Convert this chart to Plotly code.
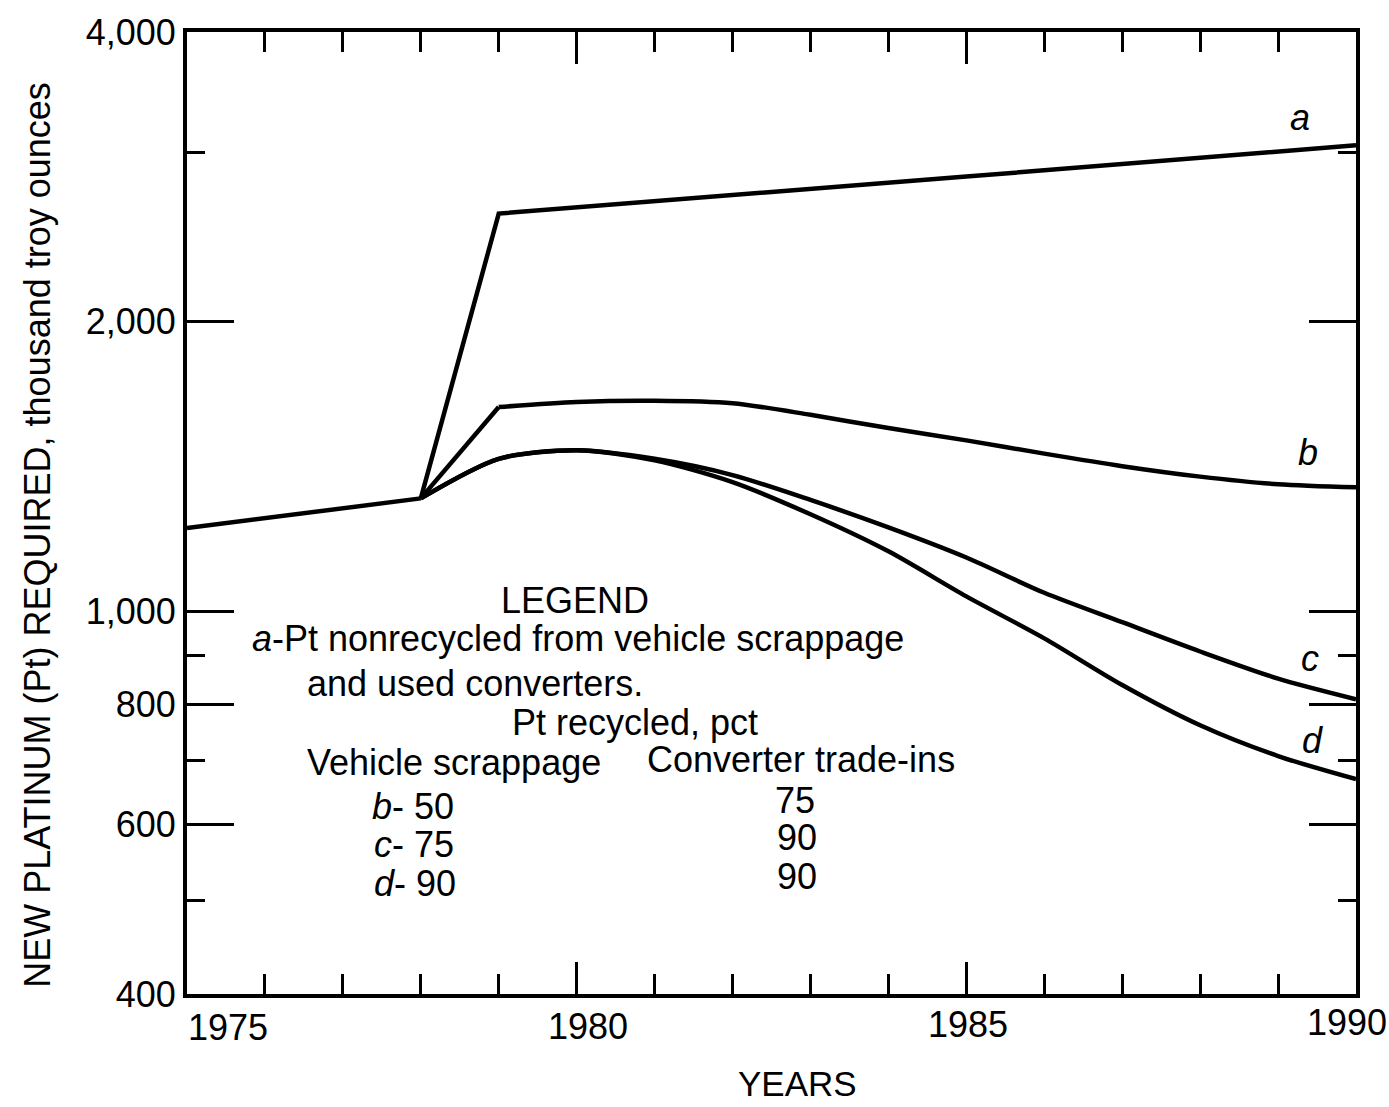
import plotly.graph_objects as go

# ---------------- data ----------------
common_years = [1975, 1978]
common_vals = [1220, 1310]

a_years = [1978, 1979, 1985, 1990]
a_vals = [1310, 2590, 2830, 3050]

years = [1978, 1979, 1980, 1981, 1982, 1983, 1984, 1985, 1986, 1987, 1988, 1989, 1990]
b_vals = [1310, 1630, 1650, 1655, 1645, 1600, 1550, 1505, 1458, 1415, 1380, 1355, 1345]
c_vals = [1310, 1440, 1470, 1440, 1385, 1305, 1222, 1137, 1045, 974, 908, 851, 810]
d_vals = [1310, 1440, 1470, 1435, 1362, 1261, 1154, 1036, 937, 838, 761, 707, 669]

y_major = [400, 600, 800, 1000, 2000, 4000]
y_major_text = ["400", "600", "800", "1,000", "2,000", "4,000"]
y_minor = [500, 700, 900, 3000]
x_major = [1975, 1980, 1985, 1990]
x_major_text = ["1975", "1980", "1985", "1990"]
x_minor = [1976, 1977, 1978, 1979, 1981, 1982, 1983, 1984, 1986, 1987, 1988, 1989]

# ---------------- layout geometry ----------------
FIG_W, FIG_H = 1389, 1107
L, R, T, B = 187, 1356, 22, 994
W, H = R - L, B - T

def P(x, y):
    return (x - L) / W, 1 - (y - T) / H

FONT = "Liberation Sans, Arial, sans-serif"
LINE = dict(color="black", width=4.5)
SPL = dict(color="black", width=4.5, shape="spline", smoothing=0.8)

fig = go.Figure()

fig.add_trace(go.Scatter(x=common_years, y=common_vals, mode="lines", line=LINE, showlegend=False))
fig.add_trace(go.Scatter(x=a_years, y=a_vals, mode="lines", line=LINE, showlegend=False))
# b: straight rise then smooth curve
fig.add_trace(go.Scatter(x=years[:2], y=b_vals[:2], mode="lines", line=LINE, showlegend=False))
fig.add_trace(go.Scatter(x=years[1:], y=b_vals[1:], mode="lines", line=SPL, showlegend=False))
for vals in (c_vals, d_vals):
    fig.add_trace(go.Scatter(x=years, y=vals, mode="lines", line=SPL, showlegend=False))

annotations = []

def txt(text, x, y, xanchor="center", size=36):
    px_, py_ = P(x, y)
    annotations.append(dict(text=text, x=px_, y=py_, xref="paper", yref="paper",
                            xanchor=xanchor, yanchor="middle", showarrow=False,
                            font=dict(family=FONT, size=size, color="black")))

# curve labels
txt("<i>a</i>", 1300, 108)
txt("<i>b</i>", 1308, 447)
txt("<i>c</i>", 1310, 655)
txt("<i>d</i>", 1312, 738)

# legend block
txt("LEGEND", 575, 596)
txt("<i>a</i>-Pt nonrecycled from vehicle scrappage", 250, 635, "left")
txt("and used converters.", 305, 680, "left")
txt("Pt recycled, pct", 635, 720)
txt("Vehicle scrappage", 305, 760, "left")
txt("Converter trade-ins", 645, 757, "left")
txt("<i>b</i>- 50", 370, 805, "left")
txt("<i>c</i>- 75", 372, 843, "left")
txt("<i>d</i>- 90", 372, 882, "left")
txt("75", 795, 798)
txt("90", 797, 836)
txt("90", 797, 875)

# x tick labels (placed as in the reference)
for label, xpix, ypix in zip(x_major_text, [228, 588, 968, 1347], [1028, 1027, 1025, 1023]):
    txt(label, xpix, ypix)

# axis titles
txt("YEARS", 797, 1084, size=35)
px_, py_ = P(38, 530)
annotations.append(dict(text="NEW PLATINUM (Pt) REQUIRED, thousand troy ounces",
                        x=px_, y=py_, xref="paper", yref="paper", textangle=-90,
                        xanchor="center", yanchor="middle", showarrow=False,
                        font=dict(family=FONT, size=36, color="black")))

fig.update_layout(
    width=FIG_W, height=FIG_H,
    margin=dict(l=L, r=FIG_W - R, t=T, b=FIG_H - B, pad=0),
    paper_bgcolor="white", plot_bgcolor="white",
    annotations=annotations,
    showlegend=False,
    xaxis=dict(
        range=[1975, 1990], tickmode="array", tickvals=x_major,
        showticklabels=False,
        ticks="inside", ticklen=32, tickwidth=3, tickcolor="black",
        minor=dict(tickmode="array", tickvals=x_minor, ticks="inside",
                   ticklen=20, tickwidth=3, tickcolor="black"),
        showline=True, linewidth=4, linecolor="black", mirror="allticks",
        showgrid=False, zeroline=False,
    ),
    yaxis=dict(
        type="log", range=[2.60206, 3.60206],
        tickmode="array", tickvals=y_major, ticktext=y_major_text,
        ticks="inside", ticklen=47, tickwidth=3, tickcolor="black",
        minor=dict(tickmode="array", tickvals=y_minor, ticks="inside",
                   ticklen=18, tickwidth=3, tickcolor="black"),
        showline=True, linewidth=4, linecolor="black", mirror="allticks",
        showgrid=False, zeroline=False, ticklabeloverflow="allow",
        tickfont=dict(family=FONT, size=36, color="black"),
    ),
)

fig.write_html("out.html", config={"displayModeBar": False},
               post_script="document.body.style.margin='0px';")
